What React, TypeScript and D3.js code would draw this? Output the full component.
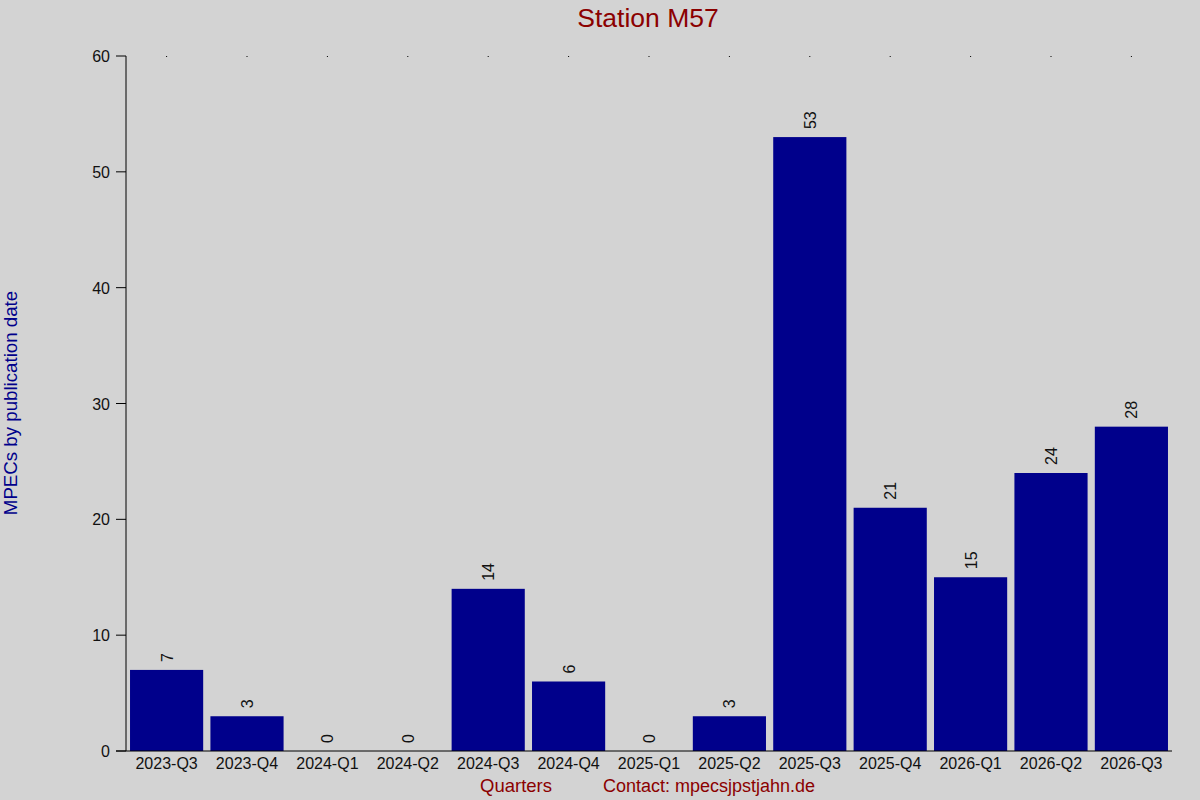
import React, { ReactElement, useEffect, useRef } from "react";
import * as d3 from "d3";

const quarters = [
  "2023-Q3", "2023-Q4", "2024-Q1", "2024-Q2", "2024-Q3", "2024-Q4", "2025-Q1",
  "2025-Q2", "2025-Q3", "2025-Q4", "2026-Q1", "2026-Q2", "2026-Q3",
];
const counts = [7, 3, 0, 0, 14, 6, 0, 3, 53, 21, 15, 24, 28];
const yTicks = [0, 10, 20, 30, 40, 50, 60];

function App(): ReactElement {
  const ref = useRef<SVGSVGElement>(null);

  useEffect(() => {
    drawChart();
  });

  const drawChart = () => {
    const width = 1200;
    const height = 800;
    const left = 126; // y axis position
    const right = 1172;
    const top = 56;
    const bottom = 751;
    const font = "Liberation Sans, Arial, sans-serif";

    const svg = d3.select(ref.current).attr("width", width).attr("height", height);
    svg.selectAll("*").remove();

    svg.append("rect").attr("width", width).attr("height", height).attr("fill", "#d3d3d3");

    const x = d3.scaleBand().domain(quarters).range([left, right]).paddingInner(0.09).paddingOuter(0.05);
    const y = d3.scaleLinear().domain([0, 60]).range([bottom, top]);

    const data = quarters.map((q, i) => ({ q, v: counts[i] }));

    svg
      .selectAll(".bar")
      .data(data)
      .enter()
      .append("rect")
      .attr("class", "bar")
      .attr("fill", "#00008b")
      .attr("x", (d) => x(d.q) || 0)
      .attr("width", x.bandwidth())
      .attr("y", (d) => y(d.v))
      .attr("height", (d) => bottom - y(d.v));

    // value labels
    svg
      .selectAll(".val")
      .data(data)
      .enter()
      .append("text")
      .attr("class", "val")
      .attr("transform", (d) => `translate(${(x(d.q) || 0) + x.bandwidth() / 2 + 6},${y(d.v) - 8}) rotate(-90)`)
      .attr("font-family", font)
      .attr("font-size", 16)
      .attr("fill", "#111")
      .text((d) => d.v);

    // y axis
    const yAxis = svg.append("g").attr("font-family", font);
    yAxis.append("line").attr("x1", left).attr("x2", left).attr("y1", top).attr("y2", bottom).attr("stroke", "#000");
    yAxis
      .selectAll(".yt")
      .data(yTicks)
      .enter()
      .append("line")
      .attr("x1", left - 10)
      .attr("x2", left)
      .attr("y1", (d) => y(d))
      .attr("y2", (d) => y(d))
      .attr("stroke", "#000");
    yAxis
      .selectAll(".yl")
      .data(yTicks)
      .enter()
      .append("text")
      .attr("x", left - 16)
      .attr("y", (d) => y(d) + 6)
      .attr("text-anchor", "end")
      .attr("font-size", 16)
      .attr("fill", "#111")
      .text((d) => d);

    // x axis
    const xAxis = svg.append("g").attr("font-family", font);
    xAxis.append("line").attr("x1", left - 10).attr("x2", right).attr("y1", bottom).attr("y2", bottom).attr("stroke", "#000");
    xAxis
      .selectAll(".xl")
      .data(quarters)
      .enter()
      .append("text")
      .attr("x", (d) => (x(d) || 0) + x.bandwidth() / 2)
      .attr("y", bottom + 18)
      .attr("text-anchor", "middle")
      .attr("font-size", 16)
      .attr("fill", "#111")
      .text((d) => d);
    // small top ticks
    xAxis
      .selectAll(".tt")
      .data(quarters)
      .enter()
      .append("rect")
      .attr("x", (d) => (x(d) || 0) + x.bandwidth() / 2 - 0.5)
      .attr("y", top)
      .attr("width", 1)
      .attr("height", 1)
      .attr("fill", "#000");

    svg
      .append("text")
      .attr("x", 648)
      .attr("y", 27)
      .attr("text-anchor", "middle")
      .attr("font-family", font)
      .attr("font-size", 26.5)
      .attr("fill", "#8b0000")
      .text("Station M57");

    svg
      .append("text")
      .attr("transform", `translate(17,403) rotate(-90)`)
      .attr("text-anchor", "middle")
      .attr("font-family", font)
      .attr("font-size", 18.7)
      .attr("fill", "#00008b")
      .text("MPECs by publication date");

    svg
      .append("text")
      .attr("x", 516)
      .attr("y", 792)
      .attr("text-anchor", "middle")
      .attr("font-family", font)
      .attr("font-size", 18.5)
      .attr("fill", "#8b0000")
      .text("Quarters");

    svg
      .append("text")
      .attr("x", 603)
      .attr("y", 792)
      .attr("font-family", font)
      .attr("font-size", 18)
      .attr("fill", "#8b0000")
      .text("Contact: mpecsjpstjahn.de");
  };

  return (
    <div style={{ position: "fixed", left: 0, top: 0 }}>
      <svg ref={ref} style={{ display: "block" }}></svg>
    </div>
  );
}

export default App;
